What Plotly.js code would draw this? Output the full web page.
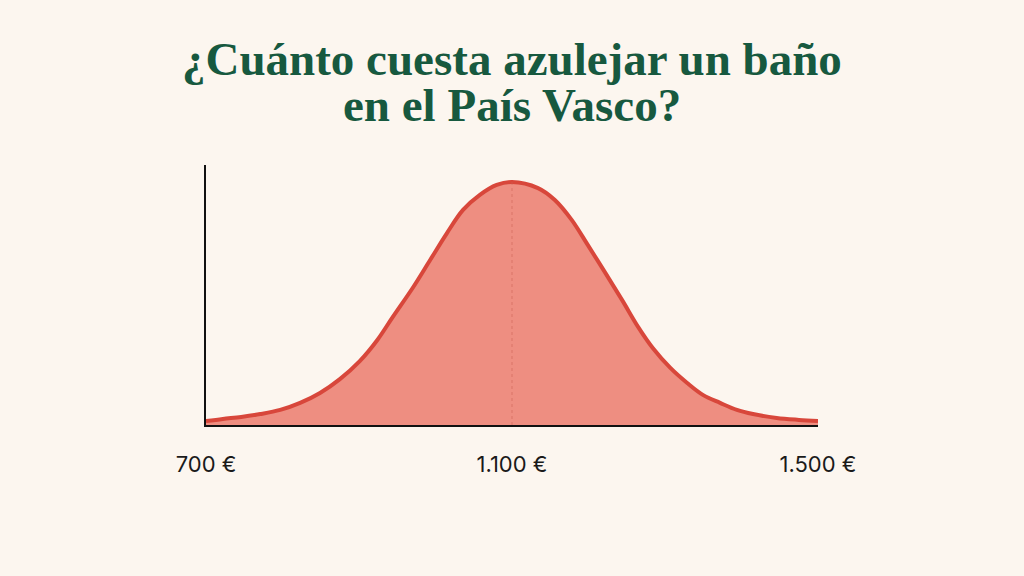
<!DOCTYPE html>
<html>
<head>
<meta charset="utf-8">
<script src="https://cdn.plot.ly/plotly-3.0.1.min.js"></script>
<style>
  html, body { margin: 0; padding: 0; background: #fcf6ef; }
  #chart { width: 1024px; height: 576px; }
</style>
</head>
<body>
<div id="chart"></div>
<script>
// precio del alicatado (euros) y densidad relativa (pico = 100)
var precios = [700, 722, 746, 771, 797, 823, 849, 875, 901, 924, 944, 971, 993, 1015, 1036, 1058, 1080, 1100,
               1134, 1156, 1178, 1199, 1222, 1244, 1265, 1284, 1307, 1329, 1350, 1372, 1394, 1415, 1446, 1475, 1500];
var densidad = [1.6, 2.5, 3.3, 4.5, 6.2, 9.1, 13.2, 18.9, 26.3, 35, 44.4, 56.8, 67.9, 79, 88.5, 94.7, 98.8, 100,
                97.5, 92.6, 84.4, 74.1, 62.6, 51.4, 40.3, 31.7, 23.5, 17.3, 12.3, 9.1, 6.2, 4.5, 2.9, 2.1, 1.6];

var tickValores = [700, 1100, 1500];
var tickTextos = ['700 €', '1.100 €', '1.500 €'];

var lineasTitulo = ['¿Cuánto cuesta azulejar un baño', 'en el País Vasco?'];

var mediana = 1100;
var alturaMediana = 100;

var data = [];

// curva rellena
data.push({
    x: precios,
    y: densidad,
    type: 'scatter',
    mode: 'lines',
    line: {color: '#d8473b', width: 4, shape: 'spline', smoothing: 1},
    fill: 'tozeroy',
    fillcolor: '#ee8e81',
    hoverinfo: 'none'
});

// línea fina en el centro
data.push({
    x: [mediana, mediana],
    y: [0, alturaMediana],
    type: 'scatter',
    mode: 'lines',
    line: {color: 'rgba(205,95,85,0.55)', width: 1, dash: 'dot'},
    hoverinfo: 'none'
});

// el título va en dos anotaciones para controlar el interlineado
var titulo = [];
var alturasTitulo = [1.409, 1.232];
for (let i = 0; i < lineasTitulo.length; i++){
    titulo.push({
        text: '<b>' + lineasTitulo[i] + '</b>',
        xref: 'paper',
        yref: 'paper',
        x: 0.5,
        y: alturasTitulo[i],
        xanchor: 'center',
        yanchor: 'middle',
        showarrow: false,
        font: {family: 'Liberation Serif, serif', size: 47, color: '#17593f'}
    });
}

var LAYOUT = {
    width: 1024,
    height: 576,
    paper_bgcolor: '#fcf6ef',
    plot_bgcolor: '#fcf6ef',
    showlegend: false,
    margin: {l: 206, r: 206, t: 165, b: 151},
    annotations: titulo,
    xaxis: {
        range: [700, 1500],
        showgrid: false,
        zeroline: false,
        showline: true,
        linecolor: '#111111',
        linewidth: 2,
        tickvals: tickValores,
        ticktext: tickTextos,
        ticks: '',
        ticklabelstandoff: 19,
        tickfont: {family: 'Inter, Roboto, sans-serif', size: 22, color: '#1a1a1a'},
        fixedrange: true
    },
    yaxis: {
        range: [0, 107],
        showgrid: false,
        zeroline: false,
        showline: true,
        linecolor: '#111111',
        linewidth: 2,
        showticklabels: false,
        ticks: '',
        fixedrange: true
    }
};

Plotly.newPlot('chart', data, LAYOUT, {displayModeBar: false, staticPlot: true});
</script>
</body>
</html>
